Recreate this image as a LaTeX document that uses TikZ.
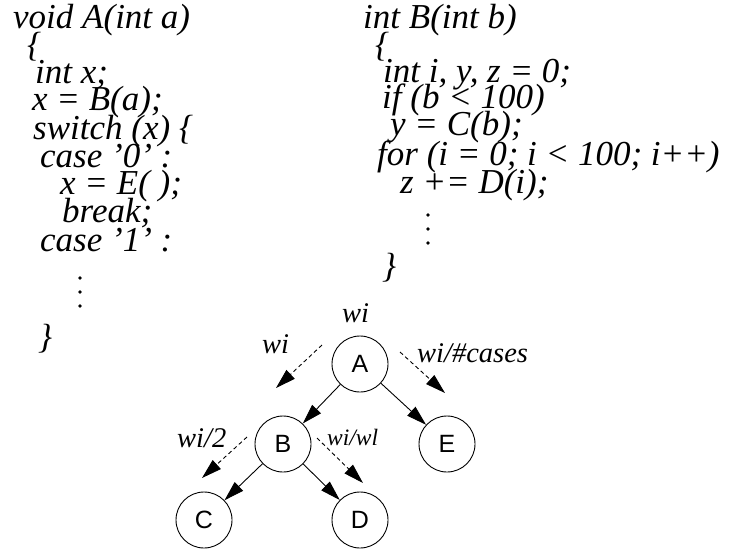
\documentclass[tikz,border=0pt]{standalone}
\usepackage{fontspec}
\setmainfont{Liberation Serif}
\newfontfamily\nodefont{Liberation Sans}
\usetikzlibrary{arrows.meta}
\begin{document}
\begin{tikzpicture}[x=1pt,y=-1pt,
  code/.style={anchor=base west,inner sep=0pt,font=\fontsize{35}{28}\selectfont\itshape},
  lbl/.style={anchor=base west,inner sep=0pt,font=\fontsize{28.5}{30}\selectfont\itshape},
  fn/.style={circle,draw,line width=0.9pt,minimum size=56pt,inner sep=0pt,
    font=\nodefont\fontsize{25}{25}\selectfont},
  call/.style={line width=0.9pt,-{Triangle[length=20pt,width=12pt]}},
  est/.style={call,dash pattern=on 4pt off 3pt},
  dot/.style={circle,fill,inner sep=0pt,minimum size=3.6pt}]
\useasboundingbox (0,0) rectangle (729,560);

% procedure A
\node[code] (a1) at (13,28)  {void A(int a)};
\node[code] (a2) at (27,56)  {\{};
\node[code] (a3) at (35,83)  {int x;};
\node[code] (a4) at (32,110) {x = B(a);};
\node[code] (a5) at (33,139) {switch (x) \{};
\node[code] (a6) at (40,167) {case ’0’ :};
\node[code] (a7) at (60,194) {x = E( );};
\node[code] (a8) at (62,222) {break;};
\node[code] (a9) at (40,251) {case ’1’ :};
\node[dot] (av1) at (80,278) {};
\node[dot] (av2) at (80,292) {};
\node[dot] (av3) at (80,306) {};
\node[code] (a10) at (38,348) {\}};

% procedure B
\node[code] (b1) at (363,28)  {int B(int b)};
\node[code] (b2) at (375,56)  {\{};
\node[code] (b3) at (383,82)  {int i, y, z = 0;};
\node[code] (b4) at (382,108) {if (b < 100)};
\node[code] (b5) at (390,135) {y = C(b);};
\node[code] (b6) at (377,165) {for (i = 0; i < 100; i++)};
\node[code] (b7) at (400,193) {z += D(i);};
\node[dot] (bv1) at (428,215) {};
\node[dot] (bv2) at (428,229) {};
\node[dot] (bv3) at (428,243) {};
\node[code] (b8) at (382,277) {\}};

% call graph
\node[fn] (A) at (360,364) {A};
\node[fn] (B) at (283,444) {B};
\node[fn] (E) at (447,444) {E};
\node[fn] (C) at (204,520) {C};
\node[fn] (D) at (360,520) {D};

\draw[call] (A) -- (B);
\draw[call] (A) -- (E);
\draw[call] (B) -- (C);
\draw[call] (B) -- (D);

% propagated weights
\coordinate (wa1) at (322,345);
\coordinate (wa2) at (276,388);
\coordinate (we1) at (400,352);
\coordinate (we2) at (445,393);
\coordinate (wc1) at (247,437);
\coordinate (wc2) at (202,478);
\coordinate (wd1) at (317,438);
\coordinate (wd2) at (363,483);
\draw[est] (wa1) -- (wa2);
\draw[est] (we1) -- (we2);
\draw[est] (wc1) -- (wc2);
\draw[est] (wd1) -- (wd2);

\node[lbl] (l0) at (342,322) {wi};
\node[lbl] (l1) at (262,353) {wi};
\node[lbl] (l2) at (417,362) {wi/\#cases};
\node[lbl] (l3) at (177,447) {wi/2};
\node[lbl,font=\fontsize{23.5}{26}\selectfont\itshape] (l4) at (327,445) {wi/wl};
\end{tikzpicture}
\end{document}
